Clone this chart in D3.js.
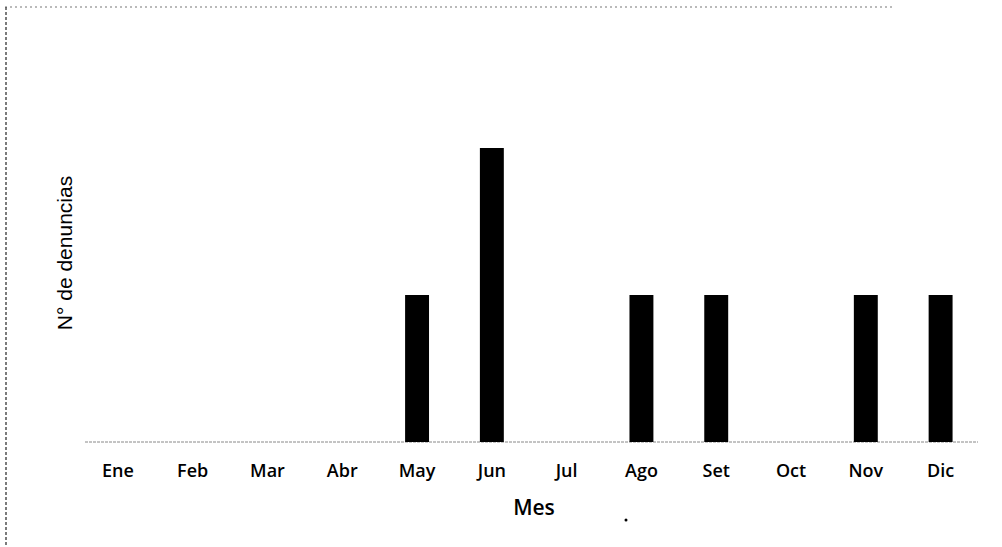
<!DOCTYPE html>
<html>
<head>
<meta charset="utf-8">
<script src="https://cdn.jsdelivr.net/npm/d3@7"></script>
<style>
  body { margin: 0; background: #fff; }
</style>
</head>
<body>
<script>
var width = 1002, height = 547;

// data
var meses = ["Ene", "Feb", "Mar", "Abr", "May", "Jun", "Jul", "Ago", "Set", "Oct", "Nov", "Dic"];
var denuncias = [0, 0, 0, 0, 1, 2, 0, 1, 1, 0, 1, 1];

var svg = d3.select("body")
    .append("svg")
    .attr("width", width)
    .attr("height", height);

// scan border leftovers (dotted frame top + left)
svg.append("line")
    .attr("x1", 5).attr("y1", 7).attr("x2", 895).attr("y2", 7)
    .style("stroke", "#777").style("stroke-width", 1.2)
    .style("stroke-dasharray", "2,3");
svg.append("line")
    .attr("x1", 6).attr("y1", 7).attr("x2", 6).attr("y2", 545)
    .style("stroke", "#444").style("stroke-width", 1.4)
    .style("stroke-dasharray", "3,2");

var x = d3.scaleBand()
    .domain(meses)
    .range([80.5, 978])
    .paddingInner(0.68)
    .paddingOuter(0.34);

var y = d3.scaleLinear()
    .domain([0, 2])
    .range([442, 148]);

// baseline
svg.append("line")
    .attr("x1", 85).attr("x2", 978)
    .attr("y1", y(0)).attr("y2", y(0))
    .style("stroke", "#888").style("stroke-width", 1)
    .style("stroke-dasharray", "3,1");

svg.append("g")
    .selectAll("rect")
    .data(denuncias)
    .enter().append("rect")
    .attr("x", function(d, i) { return x(meses[i]); })
    .attr("y", function(d) { return y(d); })
    .attr("width", x.bandwidth())
    .attr("height", function(d) { return y(0) - y(d); })
    .attr("fill", "#000");

// month labels
var xAxis = svg.append("g")
    .attr("transform", "translate(0," + y(0) + ")")
    .call(d3.axisBottom(x).tickSize(0).tickPadding(22));
xAxis.select(".domain").remove();
xAxis.selectAll("text")
    .style("font-family", "'Open Sans', sans-serif")
    .style("font-weight", "600")
    .style("font-size", "18px")
    .style("fill", "#000");

// axis titles
svg.append("text")
    .attr("x", 534)
    .attr("y", 515)
    .attr("text-anchor", "middle")
    .style("font-family", "'Open Sans', sans-serif")
    .style("font-weight", "600")
    .style("font-size", "21px")
    .text("Mes");

svg.append("text")
    .attr("transform", "translate(72,253) rotate(-90)")
    .attr("text-anchor", "middle")
    .style("font-family", "'Liberation Sans', Arial, sans-serif")
    .style("font-size", "21px")
    .text("N° de denuncias");

// stray dot from the scan
svg.append("circle")
    .attr("cx", 626).attr("cy", 520).attr("r", 1.5)
    .attr("fill", "#000");
</script>
</body>
</html>
